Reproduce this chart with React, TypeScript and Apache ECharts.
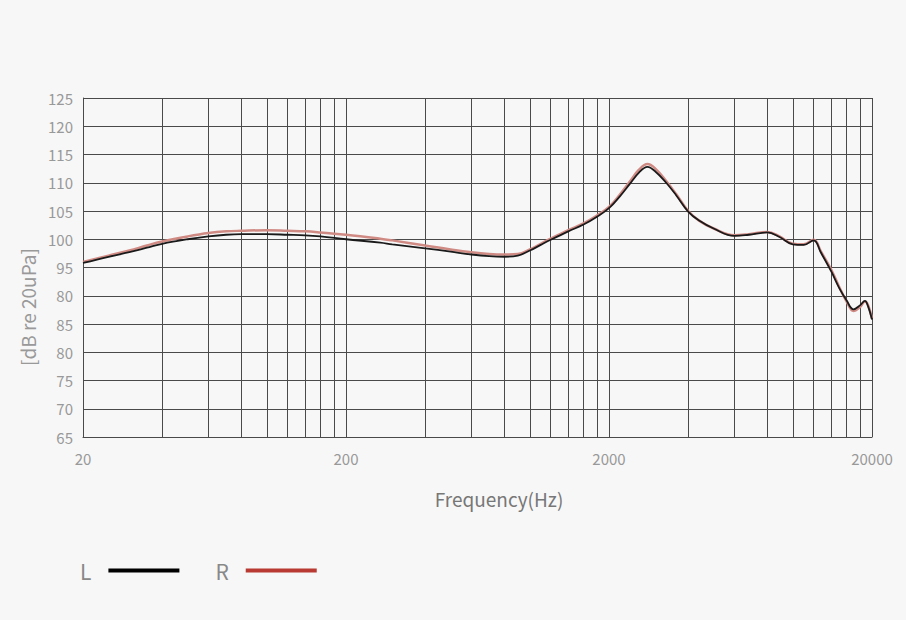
import React, { useEffect, useRef } from "react";
import * as echarts from "echarts";

const freqs = [20, 25, 30, 35, 40, 50, 60, 70, 80, 100, 120, 140, 160, 200, 270, 300, 400, 500, 600, 700, 800, 900, 1000, 1100, 1200, 1400, 1600, 1800, 2000, 2200, 2400, 2600, 2800, 3000, 3300, 3600, 4000, 4400, 5000, 6000, 6800, 8000, 8900, 10000, 11000, 12000, 12800, 14000, 15000, 16000, 17000, 18000, 18800, 19300, 20000];

const leftValues = [95.8, 96.9, 97.7, 98.5, 99.2, 100.0, 100.5, 100.8, 100.9, 100.9, 100.8, 100.7, 100.5, 100.0, 99.4, 99.1, 98.4, 97.8, 97.3, 97.0, 96.9, 97.1, 98.0, 99.0, 99.9, 101.4, 102.6, 104.0, 105.5, 107.6, 109.8, 111.8, 112.8, 112.0, 110.0, 107.8, 104.9, 103.3, 101.9, 100.6, 100.8, 101.2, 100.4, 99.1, 99.0, 99.8, 97.6, 94.3, 91.4, 89.2, 87.6, 88.3, 89.1, 88.2, 85.8];

const rightValues = [96.0, 97.1, 98.0, 98.9, 99.6, 100.5, 101.1, 101.4, 101.5, 101.6, 101.5, 101.4, 101.2, 100.8, 100.1, 99.8, 98.9, 98.2, 97.7, 97.4, 97.3, 97.4, 98.2, 99.2, 100.1, 101.6, 102.8, 104.2, 105.7, 107.9, 110.2, 112.3, 113.3, 112.5, 110.3, 108.0, 105.0, 103.3, 101.9, 100.7, 100.9, 101.3, 100.5, 99.2, 99.1, 99.9, 97.8, 94.6, 91.6, 89.0, 87.3, 88.0, 89.0, 88.4, 86.0];

const gridFreqs = [20, 40, 60, 80, 100, 120, 140, 160, 180, 200, 400, 600, 800, 1000, 1200, 1400, 1600, 1800, 2000, 4000, 6000, 8000, 10000, 12000, 14000, 16000, 18000, 20000];
const xLabelFreqs = [20, 200, 2000, 20000];
const yTickLabels = ["65", "70", "75", "80", "85", "80", "95", "100", "105", "110", "115", "120", "125"];

const seriesNames = ["L", "R"];
const FONT = "'Noto Sans CJK SC', 'Noto Sans', sans-serif";

export default function App() {
  const ref = useRef<HTMLDivElement>(null);
  useEffect(() => {
    document.body.style.margin = "0";
    document.body.style.background = "#f7f7f7";
    if (!ref.current) return;
    const chart = echarts.init(ref.current, null, { renderer: "svg" });
    const gridColor = "#4a4a4a";
    chart.setOption({
      animation: false,
      backgroundColor: "#f7f7f7",
      grid: { left: 83, right: 34, top: 98, bottom: 183 },
      xAxis: {
        type: "log",
        logBase: 10,
        min: 20,
        max: 20000,
        axisLine: { show: true, lineStyle: { color: gridColor, width: 1 } },
        axisTick: { show: false, customValues: gridFreqs },
        splitLine: { show: true, lineStyle: { color: gridColor, width: 1 } },
        axisLabel: {
          customValues: xLabelFreqs,
          color: "#999",
          fontSize: 15,
          margin: 14,
          fontFamily: FONT,
          formatter: (v: number) => String(Math.round(v)),
        },
      },
      yAxis: {
        type: "value",
        min: 65,
        max: 125,
        interval: 5,
        axisLine: { show: true, lineStyle: { color: gridColor, width: 1 } },
        axisTick: { show: false },
        splitLine: { show: true, lineStyle: { color: gridColor, width: 1 } },
        axisLabel: {
          color: "#999",
          fontSize: 15,
          margin: 10,
          fontFamily: FONT,
          formatter: (v: number) => yTickLabels[Math.round((v - 65) / 5)] ?? String(v),
        },
      },
      legend: {
        data: seriesNames,
        left: 75,
        top: 555,
        align: "right",
        icon: "rect",
        itemWidth: 71,
        itemHeight: 4,
        itemGap: 36,
        textStyle: { color: "#888", fontSize: 21, fontFamily: FONT, padding: [0, 12, 0, 0] },
      },
      graphic: [
        {
          type: "text",
          x: 27,
          y: 307,
          rotation: Math.PI / 2,
          style: {
            text: "[dB re 20uPa]",
            fill: "#999",
            fontSize: 19,
            fontFamily: FONT,
            align: "center",
            verticalAlign: "middle",
          },
        },
        {
          type: "text",
          x: 499,
          y: 498,
          style: {
            text: "Frequency(Hz)",
            fill: "#777",
            fontSize: 19,
            fontFamily: FONT,
            align: "center",
            verticalAlign: "middle",
          },
        },
      ],
      series: [
        {
          name: "R",
          type: "line",
          data: freqs.map((f, i) => [f, rightValues[i]]),
          smooth: 0.4,
          showSymbol: false,
          z: 2,
          itemStyle: { color: "#b83a33" },
          lineStyle: { color: "#d08a84", width: 2.5 },
        },
        {
          name: "L",
          type: "line",
          data: freqs.map((f, i) => [f, leftValues[i]]),
          smooth: 0.4,
          showSymbol: false,
          z: 3,
          itemStyle: { color: "#000" },
          lineStyle: { color: "#1a1a1a", width: 1.8 },
        },
      ],
    });
    return () => chart.dispose();
  }, []);
  return <div ref={ref} style={{ width: 906, height: 620 }} />;
}
